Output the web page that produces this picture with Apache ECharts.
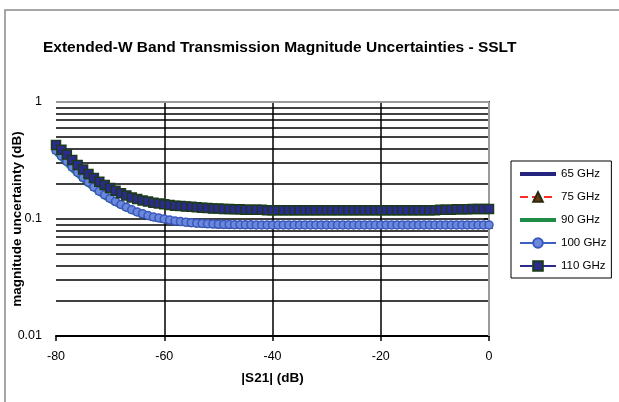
<!DOCTYPE html>
<html><head><meta charset="utf-8">
<script src="https://cdn.jsdelivr.net/npm/echarts@6/dist/echarts.min.js"></script>
<style>html,body{margin:0;padding:0;background:#fff}#c{width:619px;height:402px}</style>
</head><body><div id="c"></div>
<script>
var xs = [-80,-79,-78,-77,-76,-75,-74,-73,-72,-71,-70,-69,-68,-67,-66,-65,-64,-63,-62,-61,-60,-59,-58,-57,-56,-55,-54,-53,-52,-51,-50,-49,-48,-47,-46,-45,-44,-43,-42,-41,-40,-39,-38,-37,-36,-35,-34,-33,-32,-31,-30,-29,-28,-27,-26,-25,-24,-23,-22,-21,-20,-19,-18,-17,-16,-15,-14,-13,-12,-11,-10,-9,-8,-7,-6,-5,-4,-3,-2,-1,0];

var s65 = [0.38,0.342,0.307,0.276,0.248,0.224,0.204,0.187,0.172,0.16,0.149,0.14,0.132,0.125,0.119,0.114,0.11,0.106,0.103,0.101,0.099,0.097,0.0955,0.0945,0.0935,0.0925,0.0918,0.0912,0.0906,0.0902,0.0898,0.0895,0.0893,0.0891,0.089,0.0889,0.0888,0.0888,0.0888,0.0888,0.0888,0.0888,0.0888,0.0888,0.0888,0.0888,0.0888,0.0888,0.0888,0.0888,0.0888,0.0888,0.0888,0.0888,0.0888,0.0888,0.0888,0.0888,0.0888,0.0888,0.0888,0.0888,0.0888,0.0888,0.0888,0.0888,0.0888,0.0888,0.0888,0.0888,0.0888,0.0888,0.0888,0.0888,0.0888,0.0888,0.0888,0.0888,0.0888,0.0888,0.0888];

var s75 = [0.39,0.35,0.313,0.28,0.252,0.228,0.207,0.189,0.174,0.162,0.151,0.142,0.134,0.127,0.121,0.116,0.111,0.107,0.104,0.102,0.1,0.098,0.0965,0.095,0.094,0.093,0.0922,0.0915,0.091,0.0905,0.09,0.0898,0.0896,0.0894,0.0893,0.0892,0.0891,0.089,0.089,0.089,0.089,0.089,0.089,0.089,0.089,0.089,0.089,0.089,0.089,0.089,0.089,0.089,0.089,0.089,0.089,0.089,0.089,0.089,0.089,0.089,0.089,0.089,0.089,0.089,0.089,0.089,0.089,0.089,0.089,0.089,0.089,0.089,0.089,0.089,0.089,0.089,0.089,0.089,0.089,0.089,0.089];

var s90 = [0.36,0.325,0.29,0.26,0.235,0.213,0.194,0.178,0.164,0.152,0.142,0.134,0.127,0.12,0.115,0.11,0.106,0.103,0.1,0.098,0.096,0.095,0.094,0.093,0.092,0.091,0.0905,0.09,0.0895,0.089,0.0885,0.0882,0.088,0.088,0.088,0.088,0.088,0.088,0.088,0.088,0.088,0.088,0.088,0.088,0.088,0.088,0.088,0.088,0.088,0.088,0.088,0.088,0.088,0.088,0.088,0.088,0.088,0.088,0.088,0.088,0.088,0.088,0.088,0.088,0.088,0.088,0.088,0.088,0.088,0.088,0.088,0.088,0.088,0.088,0.088,0.088,0.088,0.088,0.088,0.088,0.088];

var s100 = [0.385,0.345,0.31,0.278,0.25,0.226,0.206,0.188,0.173,0.161,0.15,0.141,0.133,0.126,0.12,0.115,0.111,0.107,0.104,0.102,0.1,0.098,0.096,0.095,0.094,0.093,0.092,0.0915,0.091,0.0905,0.09,0.0898,0.0896,0.0894,0.0893,0.0892,0.0891,0.089,0.089,0.089,0.089,0.089,0.089,0.089,0.089,0.089,0.089,0.089,0.089,0.089,0.089,0.089,0.089,0.089,0.089,0.089,0.089,0.089,0.089,0.089,0.089,0.089,0.089,0.089,0.089,0.089,0.089,0.089,0.089,0.089,0.089,0.089,0.089,0.089,0.089,0.089,0.089,0.089,0.089,0.089,0.089];

var s110 = [0.43,0.39,0.355,0.32,0.29,0.265,0.243,0.224,0.208,0.195,0.184,0.174,0.166,0.159,0.153,0.148,0.144,0.141,0.138,0.136,0.134,0.132,0.13,0.129,0.128,0.127,0.126,0.125,0.124,0.123,0.123,0.122,0.122,0.121,0.121,0.12,0.12,0.12,0.12,0.119,0.119,0.119,0.119,0.119,0.119,0.119,0.119,0.119,0.119,0.119,0.119,0.119,0.119,0.119,0.119,0.119,0.119,0.119,0.119,0.119,0.119,0.119,0.119,0.119,0.119,0.119,0.119,0.119,0.119,0.119,0.119,0.12,0.12,0.12,0.121,0.121,0.121,0.122,0.122,0.122,0.122];

var seriesNames = ['65 GHz','75 GHz','90 GHz','100 GHz','110 GHz'];
var yMinorLines = [0.02,0.03,0.04,0.05,0.06,0.07,0.08,0.09,0.1,0.2,0.3,0.4,0.5,0.6,0.7,0.8,0.9];
var xGridLines = [-60,-40,-20];
var yTickLabels = {'1':'1','0.1':'0.1','0.01':'0.01'};

function pairs(arr){ return xs.map(function(x,i){ return [x, arr[i]]; }); }

var FONT = 'Liberation Sans, Arial, sans-serif';
var gridMarks = [];
yMinorLines.forEach(function(v){ gridMarks.push({yAxis:v}); });
xGridLines.forEach(function(v){ gridMarks.push({xAxis:v}); });
gridMarks.push({yAxis:1, lineStyle:{color:'#9a9a9a', width:2}});
gridMarks.push({xAxis:0, lineStyle:{color:'#9a9a9a', width:2}});

var lineIcon = 'path://M0,0 L36,0 L36,4 L0,4 Z';

var chart = echarts.init(document.getElementById('c'), null, {renderer:'canvas'});
chart.setOption({
  animation:false,
  backgroundColor:'#fff',
  title:{text:'Extended-W Band Transmission Magnitude Uncertainties - SSLT', left:38, top:35,
    textStyle:{fontFamily:FONT, fontSize:15.5, fontWeight:'bold', color:'#000'}},
  graphic:[{type:'rect', shape:{x:5, y:10, width:900, height:900}, style:{fill:'none', stroke:'#8a8a8a', lineWidth:1.5}, silent:true, z:-1}],
  grid:{left:56, right:130, top:102, bottom:66, containLabel:false, outerBoundsMode:'none'},
  legend:{data:[
      {name:'65 GHz', icon:lineIcon, itemStyle:{color:'#24247f'}},
      {name:'75 GHz'},
      {name:'90 GHz', icon:lineIcon, itemStyle:{color:'#1e8c46'}},
      {name:'100 GHz'},
      {name:'110 GHz'}],
    orient:'vertical', left:511, top:161,
    padding:[7,5,6,8], itemGap:11, itemWidth:36, itemHeight:12,
    borderColor:'#000', borderWidth:1, backgroundColor:'#fff',
    textStyle:{fontFamily:FONT, fontSize:11.5, color:'#000'}},
  xAxis:{type:'value', min:-80, max:0, interval:20,
    axisLine:{lineStyle:{color:'#000', width:2}},
    axisTick:{show:true, length:5, lineStyle:{color:'#000', width:1.5}},
    axisLabel:{color:'#000', fontFamily:FONT, fontSize:12.5, margin:14},
    splitLine:{show:false},
    name:'|S21| (dB)', nameLocation:'middle', nameGap:35, nameMoveOverlap:false,
    nameTextStyle:{fontFamily:FONT, fontSize:13.5, fontWeight:'bold', color:'#000'}},
  yAxis:{type:'log', logBase:10, min:0.01, max:1,
    axisLine:{show:true, lineStyle:{color:'#000', width:2}},
    axisTick:{show:true, length:5, lineStyle:{color:'#000', width:1.5}},
    axisLabel:{color:'#000', fontFamily:FONT, fontSize:12.5, margin:14,
      formatter:function(v){ var k = String(+v.toPrecision(3)); return yTickLabels[k] || k; }},
    splitLine:{show:false}, minorTick:{show:false},
    name:'magnitude uncertainty (dB)', nameLocation:'middle', nameGap:32, nameRotate:90, nameMoveOverlap:false,
    nameTextStyle:{fontFamily:FONT, fontSize:13.5, fontWeight:'bold', color:'#000'}},
  series:[
    {name:'grid', type:'line', data:[], z:1, silent:true,
      markLine:{silent:true, symbol:['none','none'], label:{show:false}, animation:false,
        lineStyle:{type:'solid', color:'#000', width:1.5}, data:gridMarks}},
    {name:'65 GHz', type:'line', data:pairs(s65), showSymbol:false, symbol:'none', z:2,
      lineStyle:{color:'#24247f', width:3}, itemStyle:{color:'#24247f'}},
    {name:'75 GHz', type:'line', data:pairs(s75), symbol:'triangle', symbolSize:7, showAllSymbol:true, z:3,
      lineStyle:{color:'#ff2a2a', width:3, type:'dashed'},
      itemStyle:{color:'#6b3a10', borderColor:'#2a2a10', borderWidth:1}},
    {name:'90 GHz', type:'line', data:pairs(s90), showSymbol:false, symbol:'none', z:4,
      lineStyle:{color:'#1e8c46', width:4}, itemStyle:{color:'#1e8c46'}},
    {name:'100 GHz', type:'line', data:pairs(s100), symbol:'circle', symbolSize:8, showAllSymbol:true, z:5,
      lineStyle:{color:'#3f5fbf', width:1.5},
      itemStyle:{color:'#6a88dc', borderColor:'#3a58bc', borderWidth:1.5}},
    {name:'110 GHz', type:'line', data:pairs(s110), symbol:'rect', symbolSize:9, showAllSymbol:true, z:6,
      lineStyle:{color:'#2b2b8c', width:3},
      itemStyle:{color:'#2b2b8c', borderColor:'#1c3a1c', borderWidth:1.5}}
  ]
});
</script></body></html>
